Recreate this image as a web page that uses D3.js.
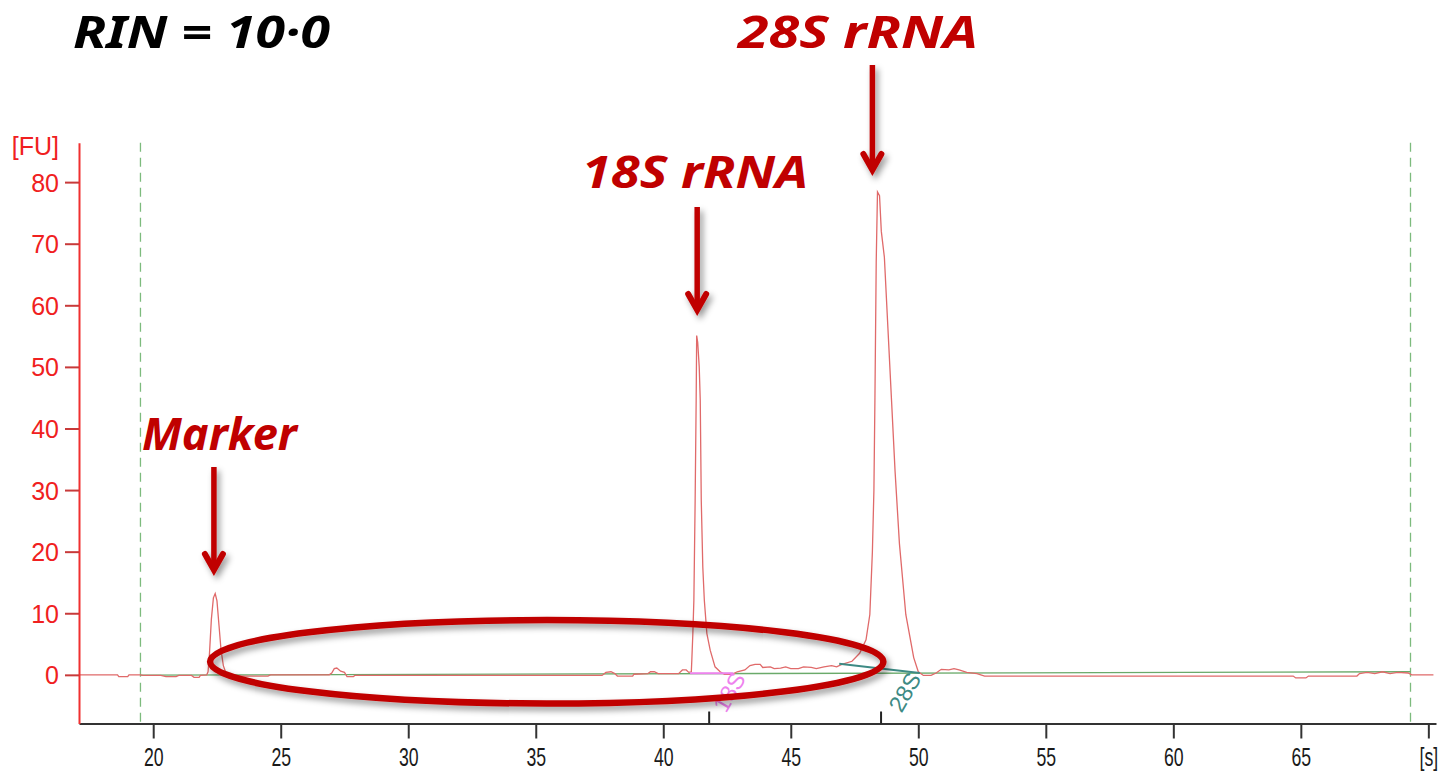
<!DOCTYPE html>
<html>
<head>
<meta charset="utf-8">
<script src="https://cdn.jsdelivr.net/npm/d3@7"></script>
<style>
  body { margin: 0; background: #ffffff; }
</style>
</head>
<body>
<div id="chart"></div>
<script>
// Electropherogram trace: time [s] and fluorescence [FU]
var traceTime = [17.1, 17.8, 18.6, 18.65, 19.0, 19.05, 19.5, 19.6, 20.3, 20.5, 20.9, 21.0, 21.5, 21.6, 21.8, 21.85,
  22.1, 22.15, 22.2, 22.28, 22.36, 22.43, 22.5, 22.58, 22.66, 22.75, 22.85, 22.95, 23.5, 24.5, 24.6, 26.9,
  27.0, 27.1, 27.2, 27.35, 27.5, 27.6, 27.85, 27.9, 37.6, 37.75, 37.95, 38.1, 38.2, 38.8, 38.85, 39.4,
  39.5, 39.65, 39.8, 40.6, 40.75, 40.9, 41.0, 41.1, 41.12, 41.16, 41.2, 41.25, 41.29, 41.31, 41.35, 41.41,
  41.45, 41.49, 41.55, 41.61, 41.71, 41.84, 42.03, 42.23, 42.4, 42.7, 42.9, 43.2, 43.4, 43.6, 43.8, 43.9,
  44.2, 44.35, 44.6, 44.8, 45.0, 45.3, 45.5, 45.8, 46.0, 46.3, 46.6, 46.8, 47.0, 47.4, 47.7, 47.95,
  48.1, 48.2, 48.26, 48.3, 48.35, 48.4, 48.48, 48.55, 48.67, 48.81, 48.95, 49.09, 49.26, 49.51, 49.82, 50.0,
  50.2, 50.5, 50.7, 50.9, 51.2, 51.4, 51.6, 51.9, 52.3, 52.6, 60.0, 64.7, 64.8, 65.2, 65.3, 67.2,
  67.3, 67.6, 67.9, 68.2, 68.5, 68.8, 69.2, 69.35, 70.2];
var traceFU = [0, 0, 0, -0.3, -0.3, 0, 0, -0.1, -0.1, -0.3, -0.3, -0.1, -0.1, -0.4, -0.4, -0.1,
  0, 0.5, 3, 9, 12.5, 13.2, 12, 8, 4, 1.5, 0.3, -0.1, -0.2, -0.2, 0, 0,
  0.3, 1.0, 1.1, 0.6, 0.4, -0.3, -0.3, -0.1, -0.1, 0.4, 0.5, 0.2, -0.2, -0.2, 0.1, 0.2,
  0.5, 0.5, 0.2, 0.2, 0.8, 0.8, 0.4, 0.5, 2.4, 6.7, 12.1, 28.3, 44.6, 55.1, 54, 50,
  44.6, 28.3, 17.5, 12.1, 6.7, 4, 1.3, 0.5, 0.1, 0.1, 0.5, 0.8, 1.5, 1.7, 1.7, 1.2,
  1.3, 1.0, 1.1, 1.3, 1.0, 1.0, 1.3, 1.2, 1.0, 1.3, 1.5, 1.3, 1.7, 2.2, 3.5, 5.7,
  9.8, 20, 30, 45, 67, 78.4, 77.8, 72, 67.8, 56.2, 44.6, 33, 21.3, 9.8, 2.8, 0.5,
  -0.1, -0.1, 0.3, 0.9, 0.8, 1.0, 0.8, 0.4, 0.2, -0.2, -0.2, -0.2, -0.5, -0.5, -0.2, -0.2,
  0.2, 0.4, 0.2, 0.5, 0.2, 0.4, 0.3, 0, 0];

// axis ticks
var xTicks = [20, 25, 30, 35, 40, 45, 50, 55, 60, 65, 70];
var xTickLabels = ["20", "25", "30", "35", "40", "45", "50", "55", "60", "65", "[s]"];
var yTicks = [0, 10, 20, 30, 40, 50, 60, 70, 80];

// analysis window (green dashed) and its baseline
var windowTimes = [19.5, 69.3];
var baselineFU = [-0.05, 0.5];

// integrated peaks: name, start/end time and FU of the peak baseline
var peakNames = ["18S", "28S"];
var peakStartTime = [41.05, 46.9];
var peakStartFU = [0.25, 1.8];
var peakEndTime = [42.74, 50.06];
var peakEndFU = [0.25, 0.3];
var peakTickTimes = [41.8, 48.54];

// hand drawn callouts
var calloutLabels = ["Marker", "18S rRNA", "28S rRNA"];
var calloutTimes = [22.38, 41.33, 48.2];

// Define SVG area dimensions
var svgWidth = 1454;
var svgHeight = 780;

var svg = d3.select("#chart")
  .append("svg")
  .attr("width", svgWidth)
  .attr("height", svgHeight)
  .style("display", "block");

var defs = svg.append("defs");
var shadow = defs.append("filter")
  .attr("id", "shadow")
  .attr("filterUnits", "userSpaceOnUse")
  .attr("x", 0).attr("y", 0)
  .attr("width", svgWidth).attr("height", svgHeight);
shadow.append("feDropShadow")
  .attr("dx", 3)
  .attr("dy", 4)
  .attr("stdDeviation", 3)
  .attr("flood-color", "#000")
  .attr("flood-opacity", 0.4);

// scales
var xScale = d3.scaleLinear()
  .domain([17.09, 70.3])
  .range([79, 1436]);

var yScale = d3.scaleLinear()
  .domain([-7.9, 86.4])
  .range([723.5, 142.7]);

// window lines
svg.selectAll(".window")
  .data(windowTimes)
  .enter()
  .append("line")
  .attr("class", "window")
  .attr("x1", d => xScale(d))
  .attr("x2", d => xScale(d))
  .attr("y1", yScale.range()[1])
  .attr("y2", yScale.range()[0])
  .attr("stroke", "#7dbb7d")
  .attr("stroke-width", 1.3)
  .attr("stroke-dasharray", "9,6");

// green baseline
svg.append("line")
  .attr("x1", xScale(windowTimes[0]))
  .attr("y1", yScale(baselineFU[0]))
  .attr("x2", xScale(windowTimes[1]))
  .attr("y2", yScale(baselineFU[1]))
  .attr("stroke", "#6aaa6a")
  .attr("stroke-width", 1.3);

// the trace
var traceData = traceTime.map((t, i) => [t, traceFU[i]]);
var line = d3.line()
  .x(d => xScale(d[0]))
  .y(d => yScale(d[1]));

svg.append("path")
  .datum(traceData)
  .attr("d", line)
  .attr("fill", "none")
  .attr("stroke", "#e06a6a")
  .attr("stroke-width", 1.3);

// peak baselines + names
var peakColors = ["#ee82ee", "#3d8a84"];
var peakLabelShift = [-4, -15];
peakNames.forEach(function(name, i) {
  svg.append("line")
    .attr("x1", xScale(peakStartTime[i]))
    .attr("y1", yScale(peakStartFU[i]))
    .attr("x2", xScale(peakEndTime[i]))
    .attr("y2", yScale(peakEndFU[i]))
    .attr("stroke", peakColors[i])
    .attr("stroke-width", 2);

  var lx = xScale(peakEndTime[i]) + peakLabelShift[i];
  var ly = yScale(-2.8);
  svg.append("text")
    .attr("transform", `translate(${lx}, ${ly}) rotate(-60)`)
    .attr("text-anchor", "middle")
    .attr("dy", "0.35em")
    .style("font-family", "'Liberation Sans', Arial, sans-serif")
    .style("font-size", "23px")
    .attr("fill", peakColors[i])
    .text(name);
});

// x axis
var bottomAxis = d3.axisBottom(xScale)
  .tickValues(xTicks)
  .tickFormat((d, i) => xTickLabels[i])
  .tickSize(15)
  .tickSizeOuter(0);

var xAxis = svg.append("g")
  .attr("transform", `translate(0, ${yScale.range()[0]})`)
  .call(bottomAxis);

xAxis.select(".domain").attr("stroke", "#333").attr("stroke-width", 2);
xAxis.selectAll(".tick line").attr("stroke", "#333").attr("stroke-width", 2);
xAxis.selectAll(".tick text")
  .attr("y", 43)
  .attr("dy", 0)
  .attr("transform", "scale(0.68,1)")
  .attr("fill", "#1a1a1a")
  .style("font-family", "'Liberation Sans', Arial, sans-serif")
  .style("font-size", "26px");

// small upward ticks at the peak positions
svg.selectAll(".peaktick")
  .data(peakTickTimes)
  .enter()
  .append("line")
  .attr("x1", d => xScale(d))
  .attr("x2", d => xScale(d))
  .attr("y1", yScale.range()[0])
  .attr("y2", yScale.range()[0] - 12)
  .attr("stroke", "#222")
  .attr("stroke-width", 2);

// y axis
var leftAxis = d3.axisLeft(yScale)
  .tickValues(yTicks)
  .tickSize(14)
  .tickSizeOuter(0);

var yAxis = svg.append("g")
  .attr("transform", `translate(${xScale.range()[0]}, 0)`)
  .call(leftAxis);

yAxis.select(".domain").attr("stroke", "#f03030").attr("stroke-width", 2);
yAxis.selectAll(".tick line").attr("stroke", "#c83a3a").attr("stroke-width", 2);
yAxis.selectAll(".tick text")
  .attr("x", -20)
  .attr("dy", "0.36em")
  .attr("fill", "#f02020")
  .style("font-family", "'Liberation Sans', Arial, sans-serif")
  .style("font-size", "25px");

svg.append("text")
  .attr("x", 59)
  .attr("y", 155)
  .attr("text-anchor", "end")
  .attr("fill", "#f02020")
  .style("font-family", "'Liberation Sans', Arial, sans-serif")
  .style("font-size", "25px")
  .text("[FU]");

// ----- hand drawn annotations -----
var handColor = "#c00000";
var handFont = "'Comic Sans MS', 'Noto Sans', 'DejaVu Sans', sans-serif";

svg.append("ellipse")
  .attr("cx", (xScale(22.23) + xScale(48.63)) / 2)
  .attr("cy", (yScale(8.9) + yScale(-4.66)) / 2)
  .attr("rx", (xScale(48.63) - xScale(22.23)) / 2)
  .attr("ry", (yScale(-4.66) - yScale(8.9)) / 2)
  .attr("fill", "none")
  .attr("stroke", handColor)
  .attr("stroke-width", 6.5)
  .attr("filter", "url(#shadow)");

// text box [left, baseline, width] and arrow [top, tip] for every callout
var calloutLayout = [
  {tx: 142, ty: 450, tw: 155, a0: 467, a1: 573},
  {tx: 582, ty: 188, tw: 226, a0: 207, a1: 313},
  {tx: 738, ty: 48, tw: 240, a0: 65, a1: 173}
];

calloutLabels.forEach(function(label, i) {
  var lay = calloutLayout[i];
  var ax = xScale(calloutTimes[i]);

  svg.append("text")
    .attr("x", lay.tx)
    .attr("y", lay.ty)
    .attr("textLength", lay.tw)
    .attr("lengthAdjust", "spacingAndGlyphs")
    .attr("fill", handColor)
    .style("font-family", handFont)
    .style("font-weight", "bold")
    .style("font-style", "italic")
    .style("font-size", "44px")
    .text(label);

  var arrow = svg.append("g").attr("filter", "url(#shadow)");
  arrow.append("line")
    .attr("x1", ax).attr("x2", ax)
    .attr("y1", lay.a0).attr("y2", lay.a1 - 4)
    .attr("stroke", handColor)
    .attr("stroke-width", 5.5);
  arrow.append("path")
    .attr("d", `M${ax - 9},${lay.a1 - 19} L${ax},${lay.a1 - 3} L${ax + 9},${lay.a1 - 19}`)
    .attr("fill", "none")
    .attr("stroke", handColor)
    .attr("stroke-width", 6)
    .attr("stroke-linecap", "round")
    .attr("stroke-linejoin", "miter");
});

svg.append("text")
  .attr("x", 73)
  .attr("y", 48)
  .attr("textLength", 257)
  .attr("lengthAdjust", "spacingAndGlyphs")
  .attr("fill", "#000")
  .style("font-family", handFont)
  .style("font-weight", "bold")
  .style("font-style", "italic")
  .style("font-size", "44px")
  .text("RIN = 10·0");
</script>
</body>
</html>
